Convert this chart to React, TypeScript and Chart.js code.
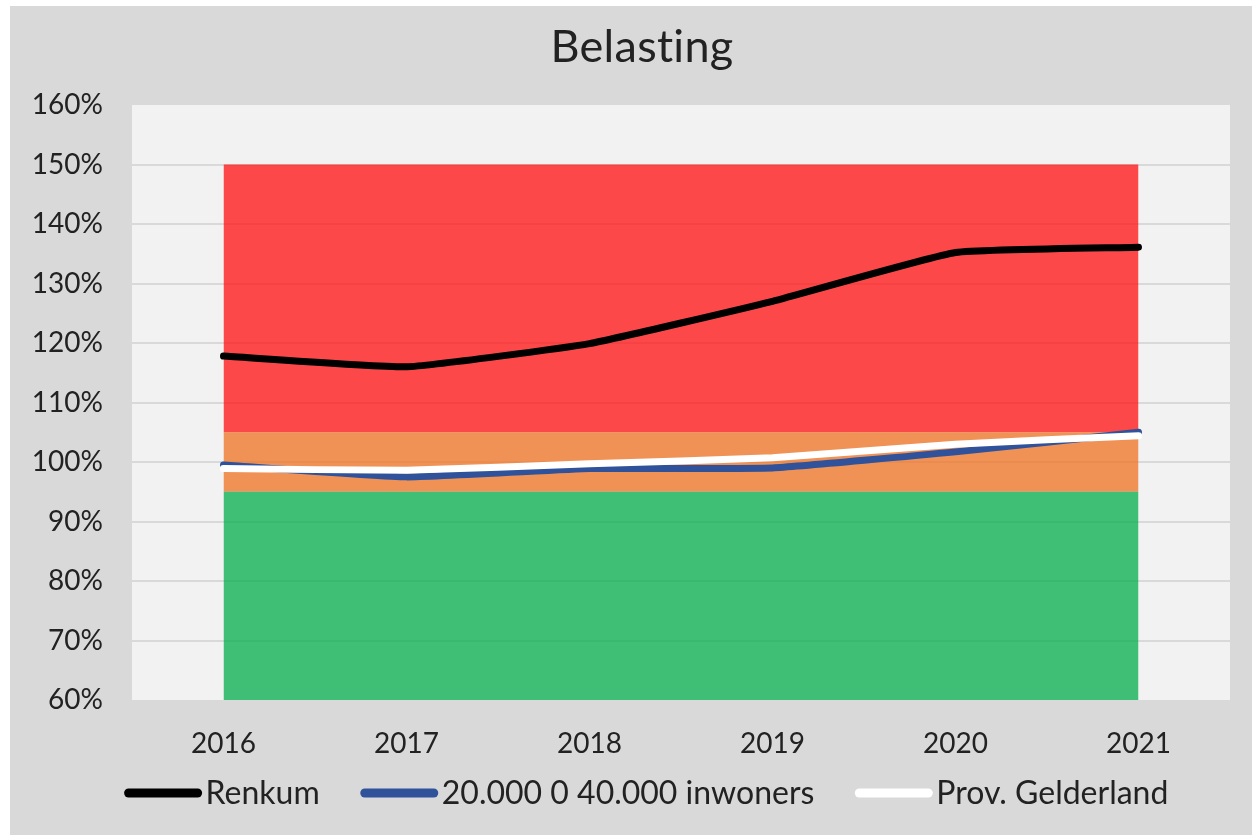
import React, { useEffect, useRef } from "react";
import { Chart, registerables } from "chart.js";

Chart.register(...registerables);

const years = ["2016", "2017", "2018", "2019", "2020", "2021"];
const renkum = [117.8, 116.0, 119.9, 127.0, 135.2, 136.1];
const groep = [99.5, 97.5, 98.9, 99.0, 101.7, 105.0];
const gelderland = [98.9, 98.6, 99.7, 100.7, 103.0, 104.4];
const bandGreen = [95, 95, 95, 95, 95, 95];
const bandOrange = [105, 105, 105, 105, 105, 105];
const bandRed = [150, 150, 150, 150, 150, 150];
const yMin = 60;
const yMax = 160;
const yStep = 10;
const title = "Belasting";
const seriesNames = ["Renkum", "20.000 0 40.000 inwoners", "Prov. Gelderland"];

const FONT = "Lato, 'Open Sans', sans-serif";
const TEXT = "#222222";

const backgroundPlugin = {
  id: "bg",
  beforeDraw(chart: any) {
    const { ctx, width, height, chartArea } = chart;
    ctx.save();
    ctx.fillStyle = "#ffffff";
    ctx.fillRect(0, 0, width, height);
    ctx.fillStyle = "#d9d9d9";
    ctx.fillRect(10, 6, width - 10, height - 6);
    ctx.fillStyle = "#f2f2f2";
    ctx.fillRect(chartArea.left, chartArea.top, chartArea.right - chartArea.left, chartArea.bottom - chartArea.top);
    ctx.restore();
  },
};

const titleLegendPlugin = {
  id: "titleLegend",
  afterDraw(chart: any) {
    const { ctx } = chart;
    ctx.save();
    ctx.fillStyle = TEXT;
    ctx.font = `45px ${FONT}`;
    ctx.textAlign = "center";
    ctx.textBaseline = "middle";
    try {
      (ctx as any).letterSpacing = "0.3px";
    } catch (e) {}
    ctx.fillText(title, 642, 47);
    try {
      (ctx as any).letterSpacing = "0px";
    } catch (e) {}

    // legend
    const items = [3, 4, 5].map((i) => chart.data.datasets[i]);
    ctx.font = `32px ${FONT}`;
    const sample = 78;
    const gap = 4;
    const between = 40;
    const widths = items.map((d: any) => sample + gap + ctx.measureText(d.label).width);
    const total = widths.reduce((a: number, b: number) => a + b, 0) + between * (items.length - 1);
    let x = 646 - total / 2;
    const y = 793;
    items.forEach((d: any, k: number) => {
      ctx.strokeStyle = d.borderColor;
      ctx.lineWidth = 9;
      ctx.lineCap = "round";
      ctx.beginPath();
      ctx.moveTo(x + 5, y);
      ctx.lineTo(x + sample - 4, y);
      ctx.stroke();
      ctx.fillStyle = TEXT;
      ctx.textAlign = "left";
      ctx.textBaseline = "middle";
      ctx.fillText(d.label, x + sample + gap, y + 1);
      x += widths[k] + between;
    });
    ctx.restore();
  },
};

export default function App() {
  const ref = useRef<HTMLCanvasElement | null>(null);

  useEffect(() => {
    document.body.style.margin = "0";
    const canvas = ref.current!;
    const band = (data: number[], color: string, fill: any) => ({
      label: "",
      data,
      borderWidth: 0,
      borderColor: "rgba(0,0,0,0)",
      backgroundColor: color,
      pointRadius: 0,
      fill,
      order: 5,
      tension: 0,
    });
    const line = (label: string, data: number[], color: string, order: number) => ({
      label,
      data,
      borderColor: color,
      backgroundColor: color,
      borderWidth: 7,
      borderCapStyle: "round",
      borderJoinStyle: "round",
      pointRadius: 0,
      fill: false,
      tension: 0.12,
      order,
    });
    const chart = new Chart(canvas, {
      type: "line",
      data: {
        labels: years,
        datasets: [
          band(bandGreen, "rgba(2,173,75,0.75)", "start"),
          band(bandOrange, "rgba(239,113,33,0.75)", 0),
          band(bandRed, "rgba(255,15,15,0.75)", 1),
          line(seriesNames[0], renkum, "#000000", 1),
          line(seriesNames[1], groep, "#2f529b", 2),
          line(seriesNames[2], gelderland, "#ffffff", 1),
        ] as any,
      },
      options: {
        responsive: false,
        animation: false,
        devicePixelRatio: 1,
        layout: { padding: { top: 105, right: 22, left: 0, bottom: 0 } },
        plugins: {
          legend: { display: false },
          title: { display: false },
          tooltip: { enabled: false },
        },
        scales: {
          x: {
            type: "category",
            offset: true,
            grid: { display: false, drawTicks: false },
            border: { display: false },
            ticks: {
              color: TEXT,
              font: { family: FONT, size: 28 },
              padding: 27,
              maxRotation: 0,
            },
            afterFit(scale: any) {
              scale.height = 135;
            },
          },
          y: {
            min: yMin,
            max: yMax,
            grid: {
              color: (c: any) => (c.tick && (c.tick.value === yMin || c.tick.value === yMax) ? "rgba(0,0,0,0)" : "#d9d9d9"),
              lineWidth: 2,
              drawTicks: false,
            },
            border: { display: false },
            ticks: {
              stepSize: yStep,
              color: TEXT,
              font: { family: FONT, size: 28 },
              padding: 29,
              callback: (v: any) => `${v}%`,
            },
            afterFit(scale: any) {
              scale.width = 132;
            },
          },
        },
      },
      plugins: [backgroundPlugin, titleLegendPlugin],
    } as any);
    return () => chart.destroy();
  }, []);

  return <canvas ref={ref} width={1252} height={835} style={{ display: "block" }} />;
}
